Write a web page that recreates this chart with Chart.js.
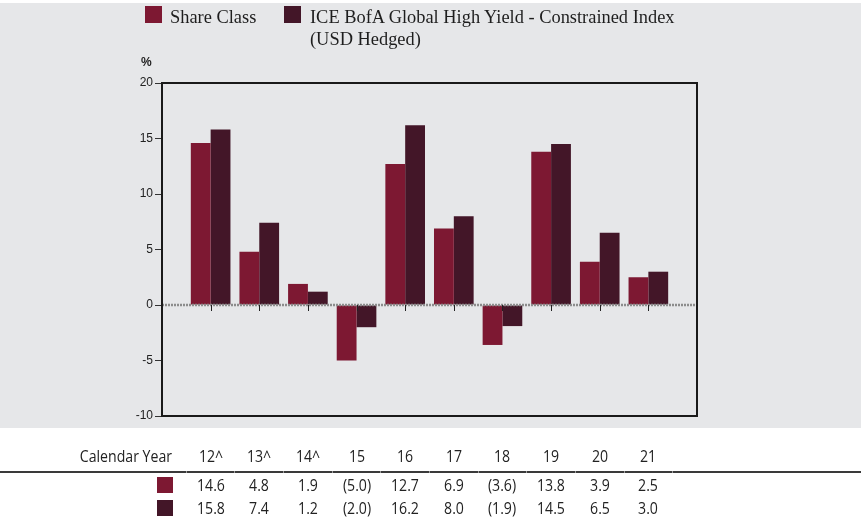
<!DOCTYPE html>
<html><head><meta charset="utf-8">
<script src="https://cdn.jsdelivr.net/npm/chart.js@4"></script>
<style>
html,body{margin:0;padding:0;background:#fff;}
#wrap{position:relative;width:861px;height:521px;overflow:hidden;}
#bg{position:absolute;left:0;top:3px;width:861px;height:425px;background:#e6e7e9;}
canvas{position:absolute;left:0;top:0;}
.leg{position:absolute;font-family:'Liberation Serif',serif;font-size:18.4px;color:#1e1e1e;line-height:22px;white-space:nowrap;}
.sw{position:absolute;width:17px;height:17px;}
.tbl{position:absolute;font-family:'Open Sans',sans-serif;font-size:17px;color:#222;white-space:nowrap;line-height:17px;transform:scaleX(0.83);}
.cell{width:60px;text-align:center;transform-origin:50% 50%;}
.hdr{transform-origin:100% 50%;}
#pct{position:absolute;left:141px;top:56px;font-family:'Liberation Sans',Arial,sans-serif;font-weight:bold;font-size:12px;line-height:12px;color:#222;}
</style></head>
<body><div id="wrap"><div id="bg"></div><canvas id="c" width="861" height="521"></canvas><div id="overlay"></div></div>
<script>
const years = ['12^','13^','14^','15','16','17','18','19','20','21'];
const shareClass = [14.6, 4.8, 1.9, -5.0, 12.7, 6.9, -3.6, 13.8, 3.9, 2.5];
const indexVals = [15.8, 7.4, 1.2, -2.0, 16.2, 8.0, -1.9, 14.5, 6.5, 3.0];
const seriesNames = ['Share Class', 'ICE BofA Global High Yield - Constrained Index', '(USD Hedged)'];
const seriesColors = ['#7d1832', '#431628'];
const yMin = -10, yMax = 20, yStep = 5;
const rowHeader = 'Calendar Year';
const unitLabel = '%';

const fmt = v => v < 0 ? '(' + Math.abs(v).toFixed(1) + ')' : v.toFixed(1);

const ov = document.getElementById('overlay');
function el(cls, text, style) {
  const d = document.createElement('div');
  d.className = cls;
  if (text !== null) d.textContent = text;
  Object.assign(d.style, style || {});
  ov.appendChild(d);
  return d;
}

// legend
el('sw', null, {left:'145px', top:'6px', background:seriesColors[0]});
el('leg', seriesNames[0], {left:'170px', top:'5.5px'});
el('sw', null, {left:'284px', top:'6px', background:seriesColors[1]});
const l2 = el('leg', null, {left:'310px', top:'5.5px'});
l2.appendChild(document.createTextNode(seriesNames[1]));
l2.appendChild(document.createElement('br'));
l2.appendChild(document.createTextNode(seriesNames[2]));
const pct = el('', unitLabel, {}); pct.id = 'pct';

const labels = ['', ...years, ''];
const pad = arr => [null, ...arr, null];

const framePlugin = {
  id: 'frame',
  afterDatasetsDraw(chart) {
    const {ctx, chartArea: a, scales: {x, y}} = chart;
    const y0 = y.getPixelForValue(0);
    ctx.save();
    ctx.strokeStyle = '#8c8c8c';
    ctx.lineWidth = 2.5;
    ctx.setLineDash([2, 1]);
    ctx.beginPath(); ctx.moveTo(a.left, y0); ctx.lineTo(a.right, y0); ctx.stroke();
    ctx.setLineDash([]);
    ctx.strokeStyle = '#222';
    ctx.lineWidth = 1;
    for (let i = 1; i <= years.length; i++) {
      const px = Math.round(x.getPixelForValue(i)) + 0.5;
      ctx.beginPath(); ctx.moveTo(px, y0); ctx.lineTo(px, y0 + 6); ctx.stroke();
    }
    ctx.strokeStyle = '#1a1a1a';
    ctx.lineWidth = 2;
    ctx.strokeRect(a.left, a.top, a.right - a.left, a.bottom - a.top);
    ctx.restore();
  }
};

const chart = new Chart(document.getElementById('c'), {
  type: 'bar',
  data: {
    labels: labels,
    datasets: [
      {label: seriesNames[0], data: pad(shareClass), backgroundColor: seriesColors[0], borderWidth: 0},
      {label: seriesNames[1] + ' ' + seriesNames[2], data: pad(indexVals), backgroundColor: seriesColors[1], borderWidth: 0}
    ]
  },
  options: {
    responsive: false,
    animation: false,
    devicePixelRatio: 1,
    layout: {padding: {left: 0, right: 164, top: 83, bottom: 105}},
    plugins: {legend: {display: false}, tooltip: {enabled: false}},
    datasets: {bar: {categoryPercentage: 0.815, barPercentage: 1}},
    scales: {
      x: {type: 'category', offset: false, display: false},
      y: {
        min: yMin, max: yMax,
        ticks: {stepSize: yStep, color: '#222', padding: 2, font: {family: "'Liberation Sans', Arial, sans-serif", size: 12}},
        grid: {display: true, drawOnChartArea: false, drawTicks: true, tickLength: 7, color: '#333', lineWidth: 1},
        border: {display: false},
        afterFit(s) { s.width = 162; }
      }
    }
  },
  plugins: [framePlugin]
});

// table
const xs = chart.scales.x;
el('tbl hdr', rowHeader, {left: '0px', width: '172px', textAlign: 'right', top: '446.5px'});
el('', null, {position: 'absolute', left: '0px', top: '470.7px', width: '861px', height: '2px', background: '#3a3a3a'});
for (let i = 0; i <= years.length; i++) {
  const gx = xs.getPixelForValue(i + 0.5);
  el('', null, {position: 'absolute', left: (gx - 0.5) + 'px', top: '470.7px', width: '1px', height: '2px', background: '#9a9a9a'});
}
el('sw', null, {left: '157px', top: '477px', width: '16px', height: '16px', background: seriesColors[0]});
el('sw', null, {left: '157px', top: '499.5px', width: '16px', height: '16px', background: seriesColors[1]});
years.forEach((yr, i) => {
  const cx = xs.getPixelForValue(i + 1);
  el('tbl cell', yr, {left: (cx - 30) + 'px', top: '446.5px'});
  el('tbl cell', fmt(shareClass[i]), {left: (cx - 30) + 'px', top: '475.8px'});
  el('tbl cell', fmt(indexVals[i]), {left: (cx - 30) + 'px', top: '498.8px'});
});
</script>
</body></html>
